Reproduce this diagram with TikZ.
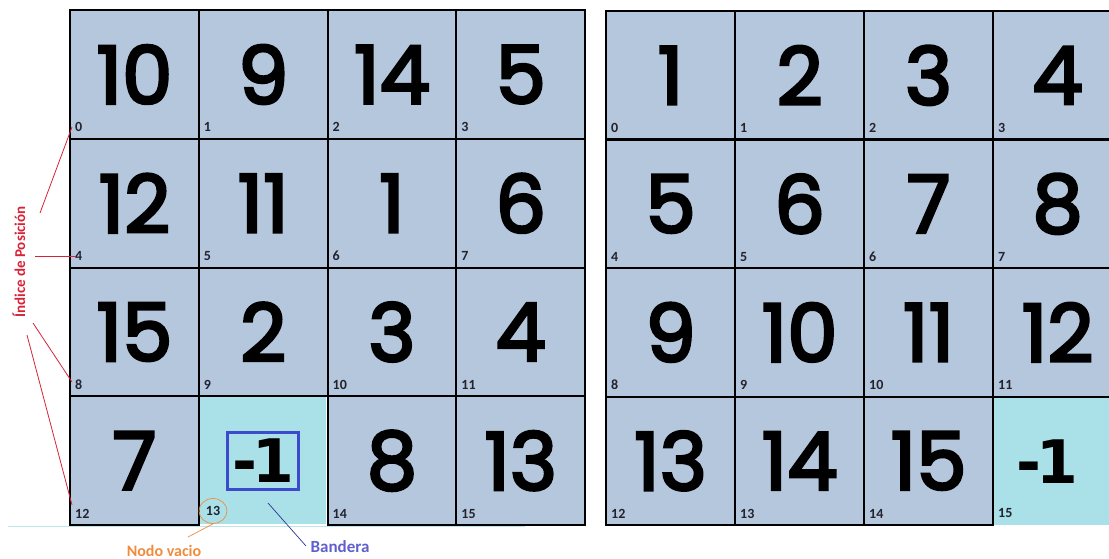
\documentclass[tikz,border=0pt]{standalone}
\usepackage{fontspec}
\setmainfont{Carlito}
\newfontfamily\numfont{Poppins}[FakeBold=3.5]
\newfontfamily\flagfont{DejaVu Sans}
\usetikzlibrary{shapes.geometric}
\definecolor{cellblue}{RGB}{181,199,221}
\definecolor{emptycyan}{RGB}{170,224,232}
\definecolor{idxred}{RGB}{215,35,55}
\definecolor{vacorange}{RGB}{240,140,60}
\definecolor{flagblue}{RGB}{60,75,205}
\definecolor{bandblue}{RGB}{95,95,205}
\definecolor{idxgray}{RGB}{35,35,45}
\tikzset{
  cellbox/.style={fill=cellblue, draw=black, line width=2.2pt, inner sep=0pt,
    minimum width=128.75pt, minimum height=128.75pt, anchor=north west},
  emptybox/.style={fill=emptycyan, draw=none, inner sep=0pt,
    minimum width=128.75pt, minimum height=128.75pt, anchor=north west},
  bignum/.style={font=\numfont\fontsize{80}{80}\selectfont, text=black, inner sep=0pt},
  flagnum/.style={font=\flagfont\bfseries\fontsize{60}{60}\selectfont, text=black, inner sep=0pt},
  idxlab/.style={font=\bfseries\fontsize{14}{14}\selectfont, text=idxgray, inner sep=0pt, anchor=base west, xshift=6pt, yshift=8pt},
  redline/.style={draw=idxred, line width=0.8pt},
}
\begin{document}
\begin{tikzpicture}[x=1pt,y=-1pt]
\useasboundingbox (0,0) rectangle (1109,559);
\begin{scope}
\clip (0,0) rectangle (1109,559);
% faint base line
\coordinate (bl1) at (8,526);
\coordinate (bl2) at (525,526);
\draw[draw=emptycyan!80!white, line width=1pt] (bl1) -- (bl2);
% ---------------- left grid ----------------
\node[emptybox] (A13) at (197.25,395.25) {};
\foreach \v [count=\k from 0] in {10,9,14,5,12,11,1,6,15,2,3,4,7,-1,8,13} {
  \ifnum\k=13 \else
  \pgfmathsetmacro\xx{69+128.75*mod(\k,4)}
  \pgfmathsetmacro\yy{9+128.75*floor(\k/4)}
  \node[cellbox] (A\k) at (\xx,\yy) {};
  \node[bignum] (AN\k) at (A\k.center) {\v};
  \node[idxlab] (AI\k) at (A\k.south west) {\k};
  \fi
}
% flag -1 in empty cell
\node[flagnum, draw=flagblue, line width=2.5pt, minimum width=71pt, minimum height=57pt] (AN13) at (263,461) {-\kern-5pt1};
\node[draw=vacorange, line width=0.7pt, ellipse, inner sep=0pt, minimum width=28pt, minimum height=25pt, font=\bfseries\fontsize{14}{14}\selectfont, text=idxgray] (AI13) at (213,511) {13};
% ---------------- right grid ----------------
\node[emptybox, minimum width=130pt] (B15) at (992,396) {};
\foreach \v [count=\k from 0] in {1,2,3,4,5,6,7,8,9,10,11,12,13,14,15} {
  \pgfmathsetmacro\xx{605+129*mod(\k,4)}
  \pgfmathsetmacro\yy{10+128.5*floor(\k/4)}
  \node[cellbox, minimum width=129pt, minimum height=128.5pt] (B\k) at (\xx,\yy) {};
  \node[bignum] (BN\k) at (B\k.center) {\v};
  \node[idxlab] (BI\k) at (B\k.south west) {\k};
}
\node[flagnum] (BN15) at (1047,462) {-\kern-5pt1};
\node[idxlab] (BI15) at (B15.south west) {15};
\end{scope}
% ---------------- annotations ----------------
\node[rotate=90, font=\bfseries\fontsize{15}{15}\selectfont, text=idxred] (lab) at (19,262) {Índice de Posición};
\coordinate (r1) at (40,213);
\coordinate (r2) at (35,256);
\coordinate (r3) at (33,323);
\coordinate (r4) at (27,335);
\coordinate (t1) at (72,127);
\coordinate (t2) at (76,256);
\coordinate (t3) at (72,382);
\coordinate (t4) at (72,505);
\draw[redline] (r1) -- (t1);
\draw[redline] (r2) -- (t2);
\draw[redline] (r3) -- (t3);
\draw[redline] (r4) -- (t4);
% Nodo vacio
\node[font=\bfseries\fontsize{16}{16}\selectfont, text=vacorange] (vac) at (164,551) {Nodo vacio};
\coordinate (vend) at (188,537);
\draw[draw=vacorange, line width=0.7pt] (AI13.south) -- (vend);
% Bandera
\node[font=\bfseries\fontsize{17}{17}\selectfont, text=bandblue] (band) at (340,547) {Bandera};
\coordinate (bs) at (268,503);
\coordinate (be) at (306,546);
\draw[draw=flagblue!70!black, line width=0.7pt] (bs) -- (be);
\end{tikzpicture}
\end{document}
